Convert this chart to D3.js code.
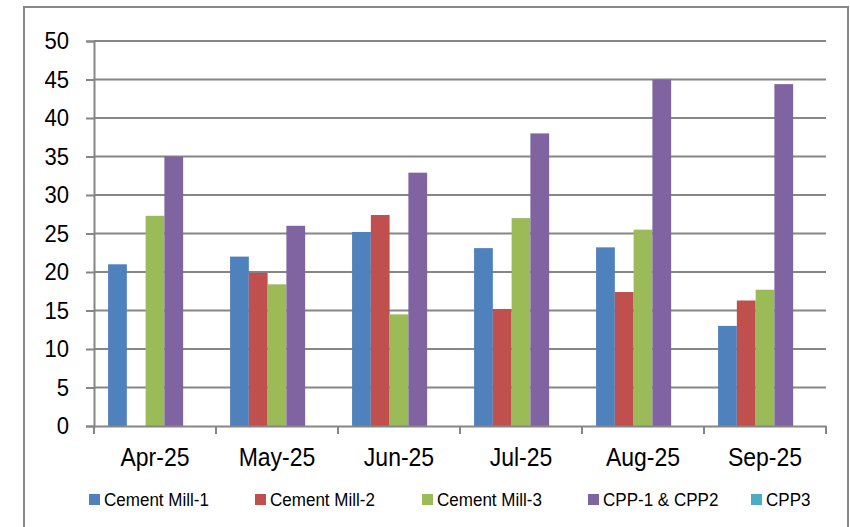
<!DOCTYPE html>
<html>
<head>
<meta charset="utf-8">
<script src="https://cdn.jsdelivr.net/npm/d3@7"></script>
<style>
  body { margin: 0; background: #fff; }
  svg { display: block; }
  text { font-family: "Liberation Sans Narrow", "Arial Narrow", "Liberation Sans", Arial, sans-serif; fill: #000; }
</style>
</head>
<body>
<svg></svg>
<script>
const width = 850;
const height = 527;
const margin = { top: 41, right: 24, bottom: 101, left: 94 };

// Datos
const months = ["Apr-25", "May-25", "Jun-25", "Jul-25", "Aug-25", "Sep-25"];
const seriesNames = ["Cement Mill-1", "Cement Mill-2", "Cement Mill-3", "CPP-1 & CPP2", "CPP3"];
const seriesColors = ["#4F81BD", "#C0504D", "#9BBB59", "#8064A2", "#4BACC6"];
const cementMill1 = [21, 22, 25.2, 23.1, 23.2, 13];
const cementMill2 = [0, 19.9, 27.4, 15.2, 17.4, 16.3];
const cementMill3 = [27.3, 18.4, 14.5, 27, 25.5, 17.7];
const cpp12 = [35, 26, 32.9, 38, 45, 44.4];
const cpp3 = [0, 0, 0, 0, 0, 0];
const yTicks = [0, 5, 10, 15, 20, 25, 30, 35, 40, 45, 50];

const allSeries = [cementMill1, cementMill2, cementMill3, cpp12, cpp3];

// letra algo estrecha (no hay Arial Narrow)
const squeeze = 0.92;
function narrow(sel) {
  sel.each(function () {
    const t = d3.select(this);
    const tx = +t.attr("x") || 0;
    t.attr("x", 0).attr("transform", `translate(${tx},0) scale(${squeeze},1)`);
  });
}

const svg = d3.select("svg")
  .attr("width", width)
  .attr("height", height);

// Borde del area del grafico
svg.append("rect")
  .attr("x", 24)
  .attr("y", 7)
  .attr("width", 824)
  .attr("height", 530)
  .attr("fill", "none")
  .attr("stroke", "#878787")
  .attr("stroke-width", 2);

const x = d3.scaleBand()
  .domain(months)
  .range([margin.left, width - margin.right]);

// 150% gap width, 5 series
const barW = x.bandwidth() / (seriesNames.length + 1.5);
const xs = d3.scaleBand()
  .domain(seriesNames)
  .range([barW * 0.75, barW * 0.75 + barW * seriesNames.length]);

const y = d3.scaleLinear()
  .domain([0, 50])
  .range([height - margin.bottom, margin.top]);

// Rejilla
svg.append("g")
  .selectAll("line")
  .data(yTicks.slice(1))
  .join("line")
  .attr("x1", margin.left)
  .attr("x2", width - margin.right)
  .attr("y1", d => y(d))
  .attr("y2", d => y(d))
  .attr("stroke", "#868686")
  .attr("stroke-width", 2);

// Barras
const rows = [];
allSeries.forEach((vals, si) => {
  vals.forEach((v, mi) => rows.push({ s: seriesNames[si], c: seriesColors[si], m: months[mi], v: v }));
});

svg.append("g")
  .selectAll("rect")
  .data(rows.filter(d => d.v > 0))
  .join("rect")
  .attr("x", d => x(d.m) + xs(d.s))
  .attr("y", d => y(d.v))
  .attr("width", xs.bandwidth())
  .attr("height", d => y(0) - y(d.v))
  .attr("fill", d => d.c);

// Eje Y
const yAxis = svg.append("g")
  .attr("transform", `translate(${margin.left},0)`)
  .call(d3.axisLeft(y).tickValues(yTicks).tickSize(8).tickPadding(17));
yAxis.attr("font-family", null);
yAxis.select(".domain").attr("stroke", "#868686").attr("stroke-width", 2);
yAxis.selectAll(".tick line").attr("stroke", "#868686").attr("stroke-width", 2);
yAxis.selectAll(".tick text")
  .style("font-size", "24px")
  .attr("fill", "#000")
  .call(narrow);

// Eje X
const xAxis = svg.append("g")
  .attr("transform", `translate(0,${y(0)})`)
  .call(d3.axisBottom(x).tickSize(0).tickPadding(22));
xAxis.attr("font-family", null);
xAxis.select(".domain").attr("stroke", "#868686").attr("stroke-width", 2);
xAxis.selectAll(".tick text")
  .style("font-size", "25px")
  .attr("fill", "#000")
  .call(narrow);

// Marcas del eje X en los bordes de las categorias
svg.append("g")
  .selectAll("line")
  .data(months.concat(["end"]))
  .join("line")
  .attr("x1", (d, i) => margin.left + i * x.bandwidth())
  .attr("x2", (d, i) => margin.left + i * x.bandwidth())
  .attr("y1", y(0))
  .attr("y2", y(0) + 8)
  .attr("stroke", "#868686")
  .attr("stroke-width", 2);

// Leyenda
const legendX = [89, 255, 422, 588, 751];
const legend = svg.append("g")
  .selectAll("g")
  .data(seriesNames)
  .join("g")
  .attr("transform", (d, i) => `translate(${legendX[i]},494)`);

legend.append("rect")
  .attr("width", 11)
  .attr("height", 11)
  .attr("fill", (d, i) => seriesColors[i]);

legend.append("text")
  .attr("x", 15)
  .attr("y", 11.5)
  .style("font-size", "18.5px")
  .text(d => d)
  .call(narrow);
</script>
</body>
</html>
